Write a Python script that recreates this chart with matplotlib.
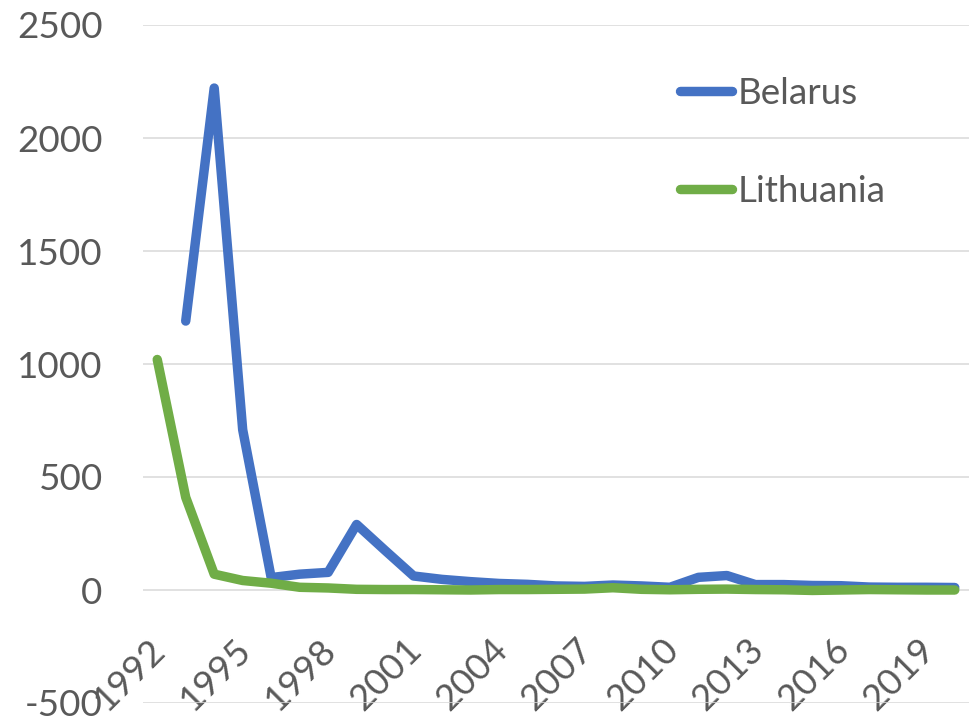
import numpy as np
import matplotlib
matplotlib.use("Agg")
import matplotlib.pyplot as plt
from matplotlib.transforms import ScaledTranslation

years = list(range(1992, 2021))
belarus = [np.nan, 1190, 2221, 709, 55, 70, 78, 290, 175, 62, 47, 37, 29, 25, 18, 16,
           22, 18, 12, 56, 64, 24, 24, 20, 19, 13, 12, 12, 11]
lithuania = [1020, 410, 70, 42, 30, 12, 9, 3, 2, 2, 1, 0, 2, 2, 3, 4,
             10, 3, 1, 3, 4, 2, 1, -2, 0, 2, 1, 0, 0]
xticks = list(range(1992, 2020, 3))
yticks = [-500, 0, 500, 1000, 1500, 2000, 2500]

plt.rcParams['font.family'] = ['Lato', 'DejaVu Sans']
plt.rcParams['axes.unicode_minus'] = False
TXT = '#595959'
W, H = 971, 721
fig = plt.figure(figsize=(W / 100, H / 100), dpi=100)
ax = fig.add_axes([143 / W, 1 - 703 / H, (969 - 143) / W, (703 - 25) / H])

ax.plot(years, belarus, color='#4472C4', lw=6.8, solid_capstyle='round',
        solid_joinstyle='round', label='Belarus', zorder=3)
ax.plot(years, lithuania, color='#70AD47', lw=6.8, solid_capstyle='round',
        solid_joinstyle='round', label='Lithuania', zorder=4)

ax.set_xlim(1991.5, 2020.5)
ax.set_ylim(-500, 2500)
ax.set_yticks(yticks)
ax.set_xticks(xticks)
ax.yaxis.grid(True, color='#D9D9D9', lw=1.1, zorder=0)
ax.set_axisbelow(True)
for s in ax.spines.values():
    s.set_visible(False)
ax.spines['bottom'].set_position(('data', 0))

ax.tick_params(axis='y', length=0, pad=29, labelsize=26.5, labelcolor=TXT)
ax.tick_params(axis='x', length=0, pad=39, labelsize=26.5, labelcolor=TXT)
for lab in ax.get_xticklabels():
    lab.set_rotation(45)
    lab.set_ha('right')
    lab.set_va('center')
    lab.set_rotation_mode('anchor')
    lab.set_transform(lab.get_transform() + ScaledTranslation(3 / 100, 0, fig.dpi_scale_trans))

leg = ax.legend(loc='upper left', bbox_to_anchor=(679.5 / W, 1 - 77 / H),
                bbox_transform=fig.transFigure, frameon=False, fontsize=26.5,
                borderpad=0, borderaxespad=0, handlelength=1.42, handletextpad=0.15,
                labelspacing=1.77)
for t in leg.get_texts():
    t.set_color(TXT)

fig.savefig('out.png', dpi=100)
